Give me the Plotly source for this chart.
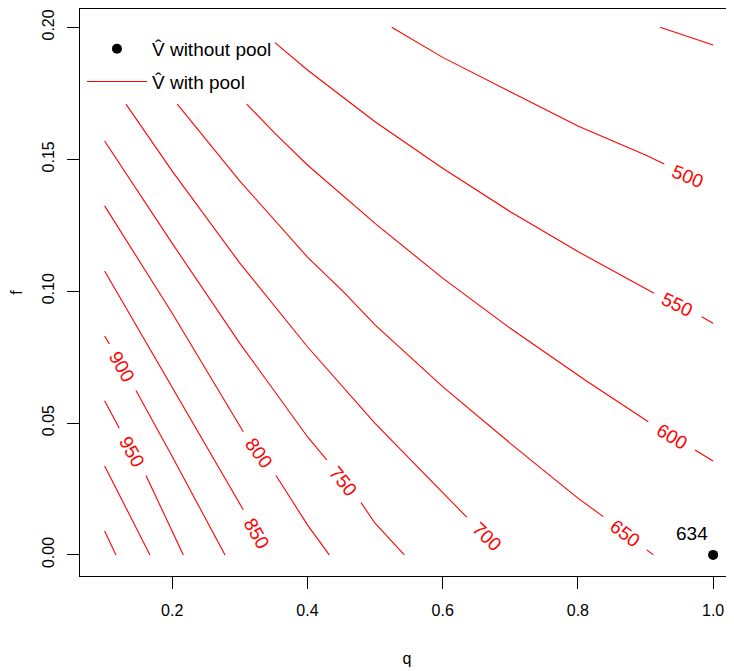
import plotly.graph_objects as go

# ---------------- data ----------------
x_ticks = [0.2, 0.4, 0.6, 0.8, 1.0]
x_tick_text = ["0.2", "0.4", "0.6", "0.8", "1.0"]
y_ticks = [0.0, 0.05, 0.10, 0.15, 0.20]
y_tick_text = ["0.00", "0.05", "0.10", "0.15", "0.20"]

# V-hat without pool (single point)
point_q = [1.0]
point_f = [0.0]
point_value = ["634"]

# contour levels of V-hat with pool (None = gap left for a label)
q_450 = [0.9215, 1.0]
f_450 = [0.2000, 0.1933]
q_500 = [0.5246, 0.6, 0.7, 0.8, 0.9, 0.9278]
f_500 = [0.2000, 0.1886, 0.1756, 0.1626, 0.1516, 0.1482]
q_550 = [0.352, 0.4, 0.5, 0.6, 0.7, 0.8, 0.9126, None, 0.9831, 1.0]
f_550 = [0.1942, 0.1838, 0.1642, 0.1466, 0.1301, 0.1150, 0.0992, None, 0.0903, 0.0878]
q_600 = [0.3102, 0.352, 0.4, 0.5, 0.6, 0.7, 0.8105, 0.9041, None, 0.9732, 1.0]
f_600 = [0.1709, 0.1598, 0.1478, 0.1257, 0.1049, 0.0859, 0.0663, 0.0505, None, 0.0398, 0.0356]
q_650 = [0.2075, 0.3, 0.4, 0.453, 0.5, 0.6, 0.7, 0.8, 0.8376, None, 0.9018, 0.9116]
f_650 = [0.1709, 0.1417, 0.1129, 0.0998, 0.0872, 0.0638, 0.0423, 0.0215, 0.0145, None, 0.0019, 0.0]
q_700 = [0.1316, 0.2, 0.3, 0.4, 0.5, 0.6, 0.6356]
f_700 = [0.1709, 0.1455, 0.1106, 0.0789, 0.0499, 0.0234, 0.0143]
q_750 = [0.1, 0.2, 0.3, 0.4, 0.4285, None, 0.4792, 0.5, 0.5433]
f_750 = [0.1569, 0.1181, 0.0802, 0.0448, 0.0360, None, 0.0198, 0.0120, 0.0]
q_800 = [0.1, 0.2, 0.3051, None, 0.3535, 0.4, 0.4323]
f_800 = [0.1323, 0.0916, 0.0467, None, 0.0301, 0.0114, 0.0]
q_850 = [0.1, 0.1549, 0.2, 0.3051]
f_850 = [0.1076, 0.0834, 0.0632, 0.0171]
q_900 = [0.1, 0.1069, None, 0.1464, 0.2, 0.2781]
f_900 = [0.0830, 0.0800, None, 0.0623, 0.0373, 0.0]
q_950 = [0.1, 0.1217, None, 0.1612, 0.2164]
f_950 = [0.0584, 0.0480, None, 0.0301, 0.0]
q_1000 = [0.1, 0.1671]
f_1000 = [0.0337, 0.0]
q_1050 = [0.1, 0.1168]
f_1050 = [0.0091, 0.0]

# contour labels
label_text = ["500", "550", "600", "650", "700", "750", "800", "850", "900", "950"]
label_q = [0.9629, 0.9462, 0.9388, 0.8697, 0.6651, 0.4530, 0.3288, 0.3250, 0.1253, 0.1401]
label_f = [0.1436, 0.0948, 0.0448, 0.0080, 0.0069, 0.0278, 0.0385, 0.0082, 0.0714, 0.0392]

# ---------------- styling ----------------
label_angle = [22, 26, 31, 37, 44, 51, 54, 60, 60, 61]
FONT = "Liberation Sans, Arial, Helvetica, sans-serif"
RED = "#FF0000"

contours = [
    (q_450, f_450), (q_500, f_500), (q_550, f_550), (q_600, f_600),
    (q_650, f_650), (q_700, f_700), (q_750, f_750), (q_800, f_800),
    (q_850, f_850), (q_900, f_900), (q_950, f_950), (q_1000, f_1000),
    (q_1050, f_1050),
]

fig = go.Figure()

fig.add_trace(go.Scatter(
    x=point_q, y=point_f, mode="markers", name="V\u0302 without pool",
    legendgroup="a", marker=dict(color="black", size=10, symbol="circle"),
))

for i, (qs, fs) in enumerate(contours):
    fig.add_trace(go.Scatter(
        x=qs, y=fs, mode="lines", name="V\u0302 with pool", legendgroup="b",
        line=dict(color=RED, width=1.1), connectgaps=False,
        showlegend=(i == 0), hoverinfo="skip",
    ))

for t, q, f, a in zip(label_text, label_q, label_f, label_angle):
    fig.add_annotation(x=q, y=f, text=t, showarrow=False, textangle=a,
                       font=dict(family=FONT, size=19, color=RED),
                       xanchor="center", yanchor="middle")

fig.add_annotation(x=point_q[0], y=point_f[0], text=point_value[0], showarrow=False,
                   xshift=-21, yshift=21, font=dict(family=FONT, size=19, color="black"),
                   xanchor="center", yanchor="middle")

fig.update_layout(
    width=726, height=663,
    margin=dict(l=72, r=0, t=1, b=95),
    paper_bgcolor="white", plot_bgcolor="white",
    font=dict(family=FONT, color="black"),
    showlegend=True,
    legend=dict(x=0.003, y=0.963, xanchor="left", yanchor="top",
                bgcolor="rgba(0,0,0,0)", font=dict(family=FONT, size=19),
                itemwidth=60, tracegroupgap=5),
    xaxis=dict(range=[0.0636, 1.0309], tickvals=x_ticks, ticktext=x_tick_text,
               ticks="outside", ticklen=12, tickwidth=1, tickcolor="black",
               showline=True, linecolor="black", linewidth=1, mirror=True,
               showgrid=False, zeroline=False, ticklabelstandoff=8,
               tickfont=dict(family=FONT, size=16),
               title=dict(text="q", font=dict(family=FONT, size=16), standoff=34)),
    yaxis=dict(range=[-0.008, 0.20694], tickvals=y_ticks, ticktext=y_tick_text,
               ticks="outside", ticklen=12, tickwidth=1, tickcolor="black",
               showline=True, linecolor="black", linewidth=1, mirror=False,
               showgrid=False, zeroline=False, tickangle=-90, ticklabelstandoff=7,
               tickfont=dict(family=FONT, size=16),
               title=dict(text="f", font=dict(family=FONT, size=16), standoff=17)),
)

fig.write_html("out.html")
